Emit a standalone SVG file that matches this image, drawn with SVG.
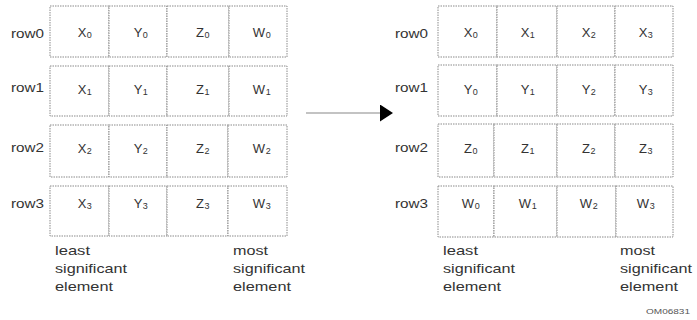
<svg xmlns="http://www.w3.org/2000/svg" width="697" height="320" viewBox="0 0 697 320">
<style>
.cell{fill:#fff;stroke:#8a8a8a;stroke-width:1;stroke-dasharray:1.5,1}
.t{font-family:"Liberation Sans",Arial,sans-serif;font-size:13px;fill:#333;text-anchor:middle;letter-spacing:0.5px}
.s{font-size:9px}
.lab{font-family:"Liberation Sans",Arial,sans-serif;font-size:12px;fill:#333}
.big{font-size:13px}
.note{font-family:"Liberation Sans",Arial,sans-serif;font-size:8px;fill:#555}
</style>
<defs>
<marker id="ah" viewBox="0 0 10 10" refX="0" refY="5" markerWidth="13" markerHeight="17" markerUnits="userSpaceOnUse" orient="auto" preserveAspectRatio="none">
<path d="M0,0 L10,5 L0,10 Z" fill="#000"/>
</marker>
</defs>
<rect width="697" height="320" fill="#fff"/>

<g id="left-labels" class="lab">
<text x="11" y="38" textLength="33" lengthAdjust="spacingAndGlyphs">row0</text>
<text x="11" y="92" textLength="33" lengthAdjust="spacingAndGlyphs">row1</text>
<text x="11" y="152" textLength="33" lengthAdjust="spacingAndGlyphs">row2</text>
<text x="11" y="208" textLength="33" lengthAdjust="spacingAndGlyphs">row3</text>
<text class="big" x="55" y="255" textLength="35" lengthAdjust="spacingAndGlyphs">least</text>
<text class="big" x="55" y="273" textLength="72" lengthAdjust="spacingAndGlyphs">significant</text>
<text class="big" x="55" y="291" textLength="58" lengthAdjust="spacingAndGlyphs">element</text>
<text class="big" x="233" y="255" textLength="35" lengthAdjust="spacingAndGlyphs">most</text>
<text class="big" x="233" y="273" textLength="72" lengthAdjust="spacingAndGlyphs">significant</text>
<text class="big" x="233" y="291" textLength="58" lengthAdjust="spacingAndGlyphs">element</text>
</g>

<g id="left-row0">
<g id="L00"><rect class="cell" x="50" y="6" width="59" height="51"/><text class="t" x="85" y="37">X<tspan class="s" dy="1">0</tspan></text></g>
<g id="L01"><rect class="cell" x="109" y="6" width="58" height="51"/><text class="t" x="141" y="37">Y<tspan class="s" dy="1">0</tspan></text></g>
<g id="L02"><rect class="cell" x="167" y="6" width="62" height="51"/><text class="t" x="203" y="37">Z<tspan class="s" dy="1">0</tspan></text></g>
<g id="L03"><rect class="cell" x="229" y="6" width="58" height="51"/><text class="t" x="262" y="37">W<tspan class="s" dy="1">0</tspan></text></g>
</g>
<g id="left-row1">
<g id="L10"><rect class="cell" x="50" y="66" width="59" height="50"/><text class="t" x="85" y="94">X<tspan class="s" dy="1">1</tspan></text></g>
<g id="L11"><rect class="cell" x="109" y="66" width="58" height="50"/><text class="t" x="141" y="94">Y<tspan class="s" dy="1">1</tspan></text></g>
<g id="L12"><rect class="cell" x="167" y="66" width="62" height="50"/><text class="t" x="203" y="94">Z<tspan class="s" dy="1">1</tspan></text></g>
<g id="L13"><rect class="cell" x="229" y="66" width="58" height="50"/><text class="t" x="262" y="94">W<tspan class="s" dy="1">1</tspan></text></g>
</g>
<g id="left-row2">
<g id="L20"><rect class="cell" x="50" y="125" width="59" height="52"/><text class="t" x="85" y="153">X<tspan class="s" dy="1">2</tspan></text></g>
<g id="L21"><rect class="cell" x="109" y="125" width="58" height="52"/><text class="t" x="141" y="153">Y<tspan class="s" dy="1">2</tspan></text></g>
<g id="L22"><rect class="cell" x="167" y="125" width="61" height="52"/><text class="t" x="203" y="153">Z<tspan class="s" dy="1">2</tspan></text></g>
<g id="L23"><rect class="cell" x="228" y="125" width="59" height="52"/><text class="t" x="262" y="153">W<tspan class="s" dy="1">2</tspan></text></g>
</g>
<g id="left-row3">
<g id="L30"><rect class="cell" x="50" y="186" width="59" height="50"/><text class="t" x="85" y="208">X<tspan class="s" dy="1">3</tspan></text></g>
<g id="L31"><rect class="cell" x="109" y="186" width="58" height="50"/><text class="t" x="141" y="208">Y<tspan class="s" dy="1">3</tspan></text></g>
<g id="L32"><rect class="cell" x="167" y="186" width="61" height="50"/><text class="t" x="203" y="208">Z<tspan class="s" dy="1">3</tspan></text></g>
<g id="L33"><rect class="cell" x="228" y="186" width="59" height="50"/><text class="t" x="262" y="208">W<tspan class="s" dy="1">3</tspan></text></g>
</g>

<g id="connectors">
<line x1="306" y1="113" x2="380" y2="113" stroke="#888" stroke-width="1.2" marker-end="url(#ah)"/>
</g>

<g id="right-labels" class="lab">
<text x="395" y="38" textLength="33" lengthAdjust="spacingAndGlyphs">row0</text>
<text x="395" y="92" textLength="33" lengthAdjust="spacingAndGlyphs">row1</text>
<text x="395" y="152" textLength="33" lengthAdjust="spacingAndGlyphs">row2</text>
<text x="395" y="208" textLength="33" lengthAdjust="spacingAndGlyphs">row3</text>
<text class="big" x="443" y="255" textLength="35" lengthAdjust="spacingAndGlyphs">least</text>
<text class="big" x="443" y="273" textLength="72" lengthAdjust="spacingAndGlyphs">significant</text>
<text class="big" x="443" y="291" textLength="58" lengthAdjust="spacingAndGlyphs">element</text>
<text class="big" x="620" y="255" textLength="35" lengthAdjust="spacingAndGlyphs">most</text>
<text class="big" x="620" y="273" textLength="72" lengthAdjust="spacingAndGlyphs">significant</text>
<text class="big" x="620" y="291" textLength="58" lengthAdjust="spacingAndGlyphs">element</text>
<text class="note" x="646" y="314" textLength="44" lengthAdjust="spacingAndGlyphs">OM06831</text>
</g>

<g id="right-row0">
<g id="R00"><rect class="cell" x="438" y="6" width="59" height="51"/><text class="t" x="471" y="37">X<tspan class="s" dy="1">0</tspan></text></g>
<g id="R01"><rect class="cell" x="497" y="6" width="60" height="51"/><text class="t" x="528" y="37">X<tspan class="s" dy="1">1</tspan></text></g>
<g id="R02"><rect class="cell" x="557" y="6" width="58" height="51"/><text class="t" x="589" y="37">X<tspan class="s" dy="1">2</tspan></text></g>
<g id="R03"><rect class="cell" x="615" y="6" width="58" height="51"/><text class="t" x="646" y="37">X<tspan class="s" dy="1">3</tspan></text></g>
</g>
<g id="right-row1">
<g id="R10"><rect class="cell" x="438" y="65" width="59" height="51"/><text class="t" x="471" y="94">Y<tspan class="s" dy="1">0</tspan></text></g>
<g id="R11"><rect class="cell" x="497" y="65" width="60" height="51"/><text class="t" x="528" y="94">Y<tspan class="s" dy="1">1</tspan></text></g>
<g id="R12"><rect class="cell" x="557" y="65" width="58" height="51"/><text class="t" x="589" y="94">Y<tspan class="s" dy="1">2</tspan></text></g>
<g id="R13"><rect class="cell" x="615" y="65" width="58" height="51"/><text class="t" x="646" y="94">Y<tspan class="s" dy="1">3</tspan></text></g>
</g>
<g id="right-row2">
<g id="R20"><rect class="cell" x="438" y="124" width="56" height="53"/><text class="t" x="471" y="153">Z<tspan class="s" dy="1">0</tspan></text></g>
<g id="R21"><rect class="cell" x="494" y="124" width="63" height="53"/><text class="t" x="528" y="153">Z<tspan class="s" dy="1">1</tspan></text></g>
<g id="R22"><rect class="cell" x="557" y="124" width="58" height="53"/><text class="t" x="589" y="153">Z<tspan class="s" dy="1">2</tspan></text></g>
<g id="R23"><rect class="cell" x="615" y="124" width="58" height="53"/><text class="t" x="646" y="153">Z<tspan class="s" dy="1">3</tspan></text></g>
</g>
<g id="right-row3">
<g id="R30"><rect class="cell" x="438" y="186" width="56" height="51"/><text class="t" x="471" y="208">W<tspan class="s" dy="1">0</tspan></text></g>
<g id="R31"><rect class="cell" x="494" y="186" width="63" height="51"/><text class="t" x="528" y="208">W<tspan class="s" dy="1">1</tspan></text></g>
<g id="R32"><rect class="cell" x="557" y="186" width="59" height="51"/><text class="t" x="589" y="208">W<tspan class="s" dy="1">2</tspan></text></g>
<g id="R33"><rect class="cell" x="616" y="186" width="57" height="51"/><text class="t" x="646" y="208">W<tspan class="s" dy="1">3</tspan></text></g>
</g>
</svg>
